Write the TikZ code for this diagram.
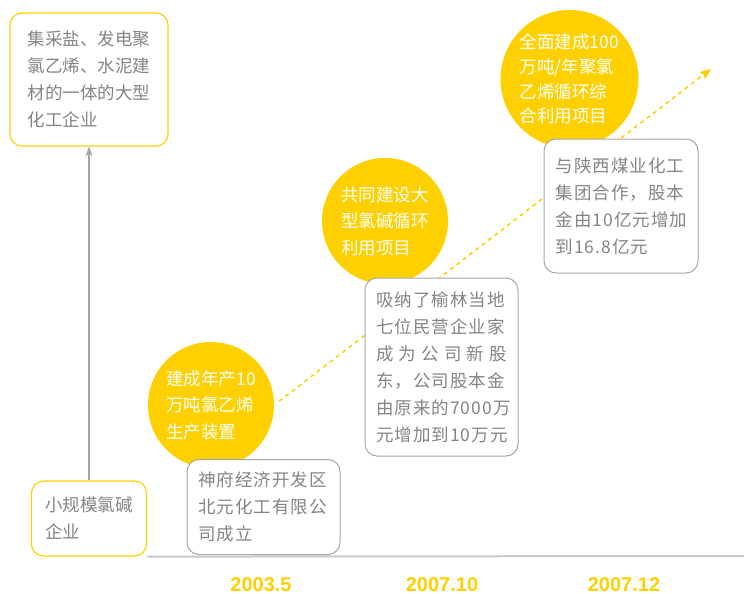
\documentclass[tikz,border=0pt]{standalone}
\usepackage{fontspec}
\setmainfont{Noto Sans CJK SC}
\newfontfamily\notefont[LetterSpace=6]{Noto Sans CJK SC}
\newfontfamily\datefont{Liberation Sans}
\usepackage{tikz}
\usetikzlibrary{arrows.meta,backgrounds}
\definecolor{gold}{HTML}{FFD000}
\definecolor{inkgray}{HTML}{858585}
\definecolor{framegray}{HTML}{A6A6A6}
\definecolor{axisgray}{HTML}{C8C8C8}
\tikzstyle{stage}=[draw=gold,line width=1.2pt,fill=white,rounded corners=12pt,text=inkgray,align=left,inner sep=0pt,font=\fontsize{17.5}{27}\selectfont]
\tikzstyle{note}=[draw=framegray,line width=1pt,fill=white,rounded corners=12pt,text=inkgray,align=left,inner sep=0pt,text width=131pt,font=\notefont\fontsize{17.5}{27}\selectfont]
\tikzstyle{milestone}=[circle,fill=gold,text=white,align=left,inner sep=0pt,minimum size=126pt,font=\fontsize{17.5}{26.5}\selectfont]
\tikzstyle{year}=[text=gold,anchor=base,font=\datefont\bfseries\fontsize{20}{24}\selectfont]
\tikzstyle{edge} = [draw,framegray,line width=1.2pt,-{Stealth[length=10pt,width=7pt]}]

\begin{document}
\begin{tikzpicture}[x=1pt,y=-1pt]
        \useasboundingbox (0,0) rectangle (744,594);
        % stages of the company
        \node[stage,text width=123pt,minimum width=158pt,minimum height=133pt] (big) at (89,79.5) {集采盐、发电聚\\氯乙烯、水泥建\\材的一体的大型\\化工企业};
        \node[stage,text width=88pt,minimum width=115pt,minimum height=75pt] (small) at (89,518.5) {小规模氯碱\\企业};
        % milestones
        \node[milestone] (m1) at (211,405) {建成年产10\\万吨氯乙烯\\生产装置};
        \node[milestone] (m2) at (385,221) {共同建设大\\型氯碱循环\\利用项目};
        \node[milestone,minimum size=138pt,font=\fontsize{17.5}{24.7}\selectfont] (m3) at (569.5,79) {全面建成100\\万吨/年聚氯\\乙烯循环综\\合利用项目};
        % notes
        \node[note,minimum width=153pt,minimum height=95pt] (n1) at (263.5,507) {神府经济开发区\\北元化工有限公\\司成立};
        \node[note,minimum width=153pt,minimum height=178pt] (n2) at (441.5,367) {吸纳了榆林当地\\七位民营企业家\\成\hfill 为\hfill 公\hfill 司\hfill 新\hfill 股\\东，公司股本金\\由原来的7000万\\元增加到10万元};
        \node[note,minimum width=154pt,minimum height=134pt] (n3) at (621,206) {与陕西煤业化工\\集团合作，股本\\金由10亿元增加\\到16.8亿元};
        % dates
        \node[year] (y1) at (261,591) {2003.5};
        \node[year] (y2) at (442,591) {2007.10};
        \node[year] (y3) at (624,591) {2007.12};
        \coordinate (tip) at (711,69);
        \coordinate (axisend) at (744,556);
        \draw[edge] (small) to (big);
        \begin{scope}[on background layer]
          \draw[gold,line width=1.5pt,dash pattern=on 4pt off 4pt,shorten <=6pt,-{Stealth[length=11pt,width=9pt,inset=2pt]}] (m1.east) to (tip);
          \draw[axisgray,line width=2pt] (small.south east) to (axisend);
        \end{scope}
\end{tikzpicture}
\end{document}
